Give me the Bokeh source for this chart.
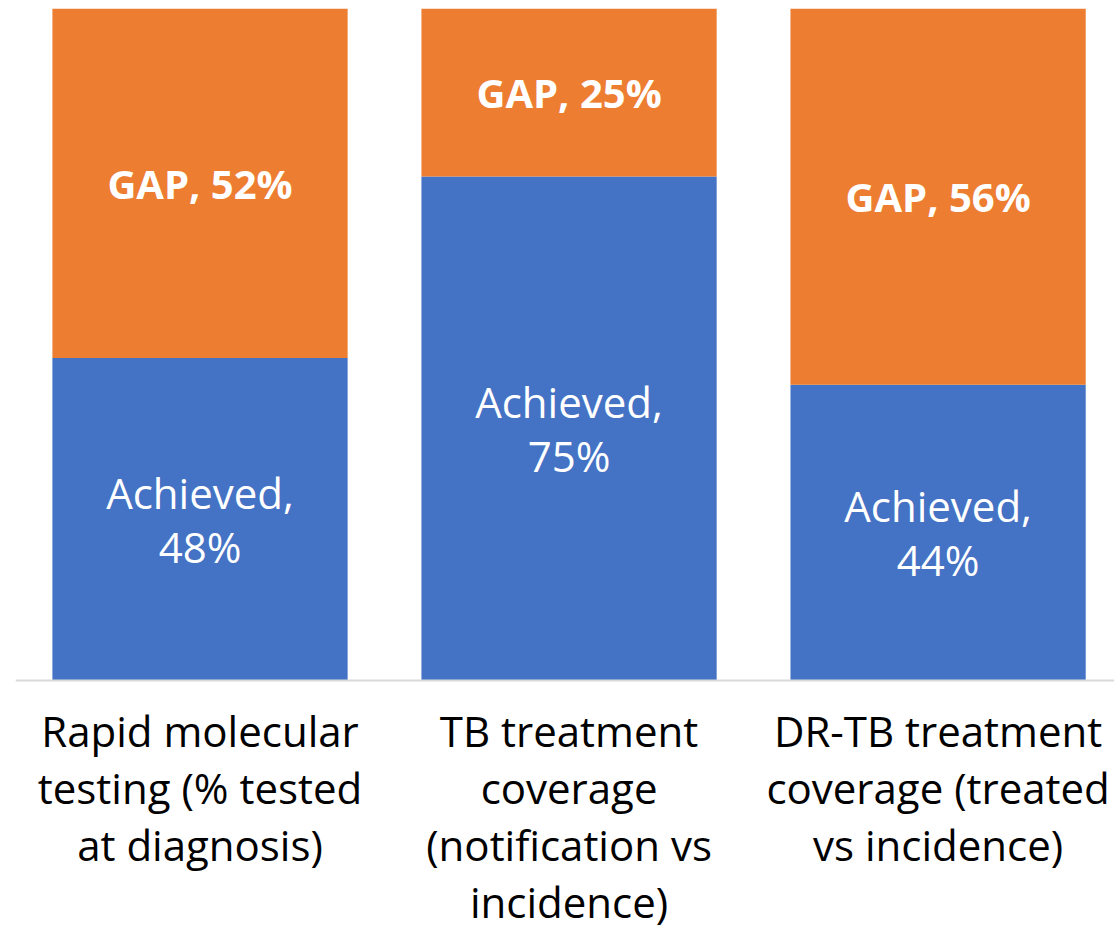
from bokeh.plotting import figure
from bokeh.models import ColumnDataSource, Range1d, Span
from bokeh.core.properties import value
from bokeh.embed import file_html
from bokeh.resources import INLINE

categories = ["Rapid molecular\ntesting (% tested\nat diagnosis)",
              "TB treatment\ncoverage\n(notification vs\nincidence)",
              "DR-TB treatment\ncoverage (treated\nvs incidence)"]
achieved = [48, 75, 44]
gap = [52, 25, 56]

FONT = "Open Sans"
BLUE = "#4472C4"
ORANGE = "#ED7D31"

xs = list(range(len(categories)))
src = ColumnDataSource(dict(
    x=xs, achieved=achieved, gap=gap,
    ach_y=[a / 2 for a in achieved],
    gap_y=[a + g / 2 for a, g in zip(achieved, gap)],
    ach_txt=[f"Achieved,\n{a}%" for a in achieved],
    gap_txt=[f"GAP, {g}%" for g in gap],
    cat=categories,
    cat_y=[-3.2] * len(categories),
))

p = figure(width=1114, height=930, output_backend="svg", toolbar_location=None,
           x_axis_location=None, y_axis_location=None,
           x_range=Range1d(-0.5, 2.478), y_range=Range1d(-37.2, 100),
           min_border_left=15, min_border_right=0, min_border_top=8, min_border_bottom=0)
p.outline_line_color = None
p.xgrid.visible = False
p.ygrid.visible = False
p.background_fill_color = "white"

p.vbar_stack(["achieved", "gap"], x="x", width=0.8, color=[BLUE, ORANGE],
             line_color=None, source=src)

p.add_layout(Span(location=0, dimension="width", line_color="#D9D9D9", line_width=2))

p.text(x="x", y="ach_y", text="ach_txt", source=src, text_color="white",
       text_font=value(FONT), text_font_size="42px", text_align="center",
       text_baseline="middle", text_line_height=0.94)
p.text(x="x", y="gap_y", text="gap_txt", source=src, text_color="white",
       text_font=value(FONT), text_font_size="40px", text_font_style="bold",
       text_align="center", text_baseline="middle")
p.text(x="x", y="cat_y", text="cat", source=src, text_color="black",
       text_font=value(FONT), text_font_size="42px", text_align="center",
       text_baseline="top", text_line_height=1.0)

open("out.html", "w").write(file_html(p, INLINE))
